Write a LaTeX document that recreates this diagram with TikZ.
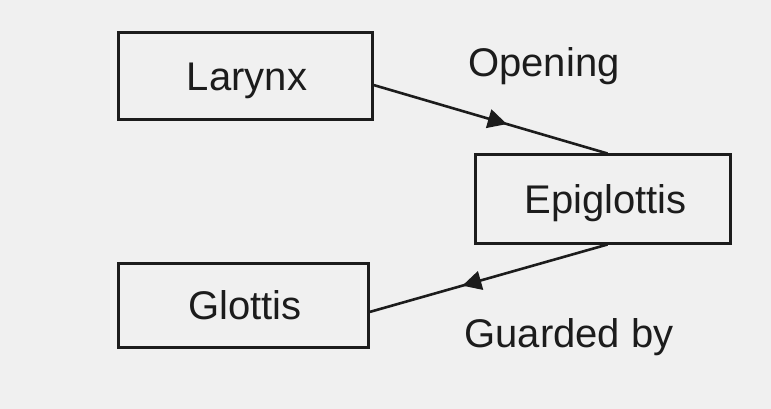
\documentclass[tikz,border=0pt]{standalone}
\usepackage{fontspec}
\setmainfont{Liberation Sans}
\usetikzlibrary{arrows.meta,decorations.markings}
\definecolor{bg}{RGB}{240,240,240}
\definecolor{ink}{RGB}{28,28,28}
\begin{document}
\begin{tikzpicture}[x=1pt,y=-1pt,
  box/.style={draw=ink, line width=3pt, inner sep=0pt, text=ink,
    font=\fontsize{40}{48}\selectfont, text height=29pt, text depth=0pt},
  lbl/.style={font=\fontsize{40}{48}\selectfont, inner sep=0pt, anchor=base, text=ink},
  conn/.style={draw=ink, line width=2.6pt, postaction=decorate},
  midarrow/.style={decoration={markings, mark=at position #1 with {\arrow{Triangle[length=19pt,width=19pt]}}}}]
\path[use as bounding box, fill=bg] (0,0) rectangle (771,409);
\node[box, minimum width=254pt, minimum height=87pt] (L) at (245,76.5) {\hspace*{4pt}Larynx};
\node[box, minimum width=255pt, minimum height=88pt] (E) at (602.5,199) {\hspace*{6pt}Epiglottis};
\node[box, minimum width=250pt, minimum height=84pt] (G) at (243,305) {\hspace*{4pt}Glottis};
\node[lbl] (op) at (544,77) {Opening};
\node[lbl] (gb) at (569,347) {Guarded by};
\draw[conn, midarrow=0.57] ([yshift=-8.5pt]L.east) -- ([xshift=5pt]E.north);
\draw[conn, midarrow=0.61] ([xshift=5pt]E.south) -- ([yshift=-7pt]G.east);
\end{tikzpicture}
\end{document}
